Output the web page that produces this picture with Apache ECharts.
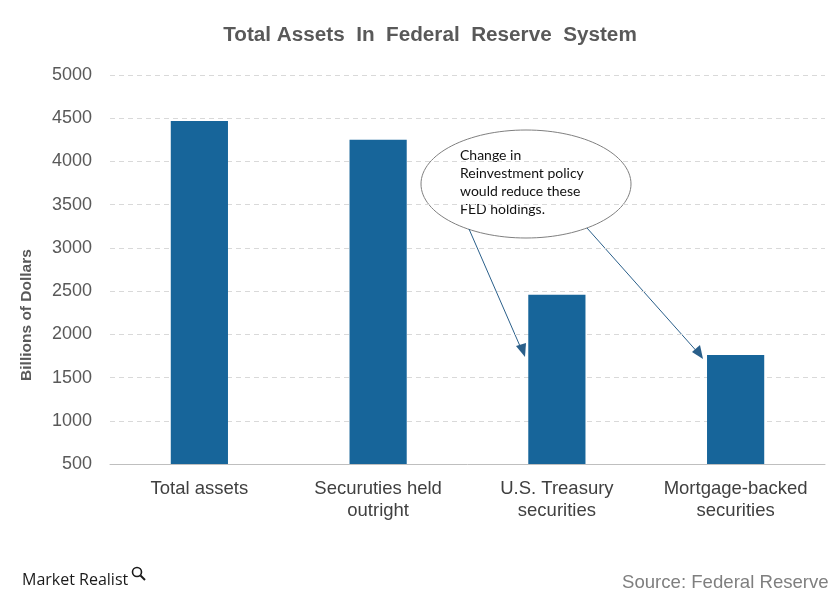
<!DOCTYPE html>
<html><head><meta charset="utf-8">
<script src="https://cdn.jsdelivr.net/npm/echarts@6/dist/echarts.min.js"></script>
<style>html,body{margin:0;padding:0;background:#fff}#c{width:840px;height:601px}</style>
</head><body><div id="c"></div>
<script>
const categories = ["Total assets", "Securuties held\noutright", "U.S. Treasury\nsecurities", "Mortgage-backed\nsecurities"];
const values = [4468, 4250, 2458, 1762];
const yTicks = [500, 1000, 1500, 2000, 2500, 3000, 3500, 4000, 4500, 5000];

const chart = echarts.init(document.getElementById('c'), null, {renderer: 'canvas'});
const F = 'Liberation Sans, Arial, sans-serif';
chart.setOption({
  animation: false,
  title: {
    text: 'Total Assets  In  Federal  Reserve  System',
    left: 425, top: 20, textAlign: 'center',
    textStyle: {fontFamily: F, fontSize: 20.7, fontWeight: 'bold', color: '#595959'}
  },
  grid: {left: 110, right: 15, top: 75, bottom: 137},
  xAxis: {
    type: 'category', data: categories,
    axisTick: {show: false},
    axisLine: {lineStyle: {color: '#bfbfbf'}},
    axisLabel: {interval: 0, fontFamily: F, fontSize: 18.5, color: '#404040', margin: 14, lineHeight: 22}
  },
  yAxis: {
    type: 'value', min: yTicks[0], max: yTicks[yTicks.length - 1], interval: 500,
    axisLine: {show: false}, axisTick: {show: false},
    axisLabel: {fontFamily: F, fontSize: 18, color: '#595959', margin: 18, formatter: v => String(v)},
    splitLine: {lineStyle: {color: '#d9d9d9', type: [5, 4]}}
  },
  series: [{
    type: 'bar', data: values, barWidth: '32%',
    itemStyle: {color: '#17659a'}
  }],
  graphic: [
    {type: 'text', x: 27, y: 315, rotation: Math.PI / 2,
      style: {text: 'Billions of Dollars', font: 'bold 15.5px ' + F, fill: '#595959', textAlign: 'center', textVerticalAlign: 'middle'}},
    {type: 'ellipse', shape: {cx: 526, cy: 184, rx: 105, ry: 54},
      style: {fill: '#fff', stroke: '#7f7f7f', lineWidth: 1}},
    {type: 'line', shape: {x1: 469, y1: 229, x2: 523, y2: 353}, style: {stroke: '#2a5f8a', lineWidth: 1}},
    {type: 'polygon', shape: {points: [[525, 357], [516, 346], [526, 343]]}, style: {fill: '#2a5f8a'}},
    {type: 'line', shape: {x1: 587, y1: 228, x2: 700, y2: 355}, style: {stroke: '#2a5f8a', lineWidth: 1}},
    {type: 'polygon', shape: {points: [[703, 359], [692, 352], [700, 345]]}, style: {fill: '#2a5f8a'}},
    {type: 'text', x: 460, y: 146,
      style: {text: 'Change in\nReinvestment policy\nwould reduce these\nFED holdings.', font: '14px Lato, sans-serif', fill: '#111', lineHeight: 18}},
    {type: 'text', x: 22, y: 580,
      style: {text: 'Market Realist', font: '16px "Open Sans", sans-serif', fill: '#1a1a1a', textVerticalAlign: 'middle'}},
    {type: 'circle', shape: {cx: 137, cy: 572, r: 4.5}, style: {fill: 'none', stroke: '#1a1a1a', lineWidth: 1.6}},
    {type: 'line', shape: {x1: 140.5, y1: 575.5, x2: 145, y2: 580}, style: {stroke: '#1a1a1a', lineWidth: 2}},
    {type: 'text', x: 622, y: 583,
      style: {text: 'Source: Federal Reserve', font: '18.6px ' + F, fill: '#7f7f7f', textVerticalAlign: 'middle'}}
  ]
});
</script></body></html>
